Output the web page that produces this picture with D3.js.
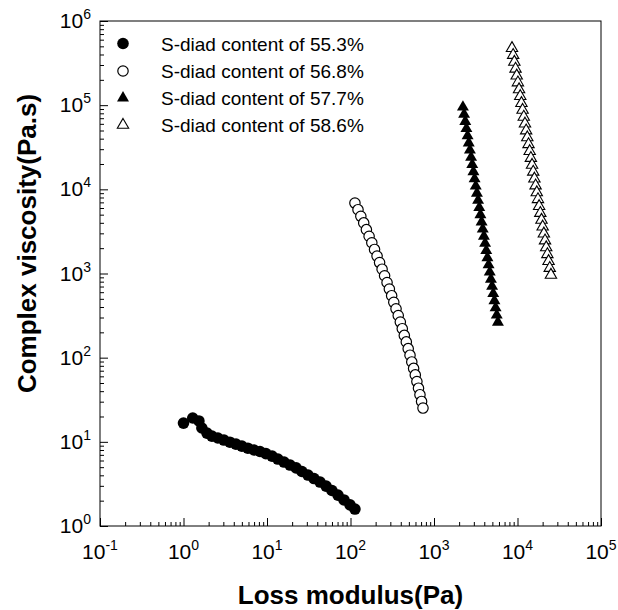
<!DOCTYPE html>
<html>
<head>
<meta charset="utf-8">
<script src="https://cdn.jsdelivr.net/npm/d3@7"></script>
<style>
  body { margin: 0; background: #fff; }
  svg { display: block; }
</style>
</head>
<body>
<script>
// complex viscosity vs loss modulus, four S-diad contents

var seriesNames = ["S-diad content of 55.3%", "S-diad content of 56.8%",
                   "S-diad content of 57.7%", "S-diad content of 58.6%"];

// [loss modulus (Pa), complex viscosity (Pa.s)]
var s553 = [[1.0,16.7],[1.29,19.2],[1.53,17.7],[1.66,14.6],[1.91,12.7],[2.19,11.7],
  [2.58,11.1],[3.05,10.5],[3.6,9.9],[4.25,9.4],[5.0,8.9],[5.9,8.4],[6.98,8.0],
  [8.24,7.68],[9.7,7.25],[11.5,6.77],[13.5,6.24],[16.0,5.75],[18.9,5.3],[22.3,4.9],
  [26.2,4.44],[31,4.03],[36.6,3.66],[43.2,3.33],[51,2.98],[60,2.64],[70.8,2.33],
  [83.6,2.04],[98.7,1.78],[113,1.59]];

var s568 = [[113,6860],[123,5730],[133,4780],[144,3990],[155,3320],[167,2770],
  [180,2320],[194,1930],[208,1610],[223,1350],[239,1125],[256,940],[274,782],
  [292,653],[311,545],[330,455],[351,380],[373,317],[395,265],[417,221],[441,184],
  [466,154],[491,128],[516,107],[542,89],[570,74.6],[597,62.4],[624,52.0],
  [652,43.4],[679,36.3],[710,30.2],[738,25.2]];

var s577 = [[2220,94700],[2293,77800],[2368,64000],[2445,52600],[2525,43200],
  [2608,35500],[2693,29200],[2781,24000],[2872,19700],[2966,16200],[3063,13300],
  [3163,10940],[3266,8990],[3373,7390],[3483,6070],[3597,4990],[3715,4100],
  [3836,3370],[3962,2770],[4091,2280],[4225,1873],[4363,1540],[4506,1266],
  [4653,1040],[4805,855],[4962,703],[5124,578],[5292,475],[5465,390],[5643,321],
  [5828,264]];

var s586 = [[8590,475000],[8874,393600],[9168,326200],[9472,270300],[9785,224000],
  [10110,185600],[10440,153800],[10790,127500],[11150,105600],[11510,87540],
  [11890,72540],[12290,60110],[12690,49820],[13110,41280],[13550,34210],
  [14000,28350],[14460,23490],[14940,19470],[15430,16130],[15940,13370],
  [16470,11080],[17010,9180],[17580,7610],[18160,6300],[18760,5220],[19380,4330],
  [20020,3590],[20680,2970],[21360,2460],[22070,2040],[22800,1690],[23550,1400],
  [24330,1160],[25140,962]];

var xTicks = [0.1, 1, 10, 100, 1000, 10000, 100000];
var xTickExp = ["-1", "0", "1", "2", "3", "4", "5"];
var yTicks = [1, 10, 100, 1000, 10000, 100000, 1000000];
var yTickExp = ["0", "1", "2", "3", "4", "5", "6"];

var W = 618, H = 610;
var pLeft = 100, pRight = 601, pTop = 21, pBottom = 526;
var font = "Arial, 'Liberation Sans', Helvetica, sans-serif";

var svg = d3.select("body").append("svg")
  .attr("width", W).attr("height", H);

var x = d3.scaleLog().domain([0.1, 100000]).range([pLeft, pRight]);
var y = d3.scaleLog().domain([1, 1000000]).range([pBottom, pTop]);

// minor + major ticks pointing inward
var xMinor = x.ticks().filter(function(d){ return xTicks.indexOf(d) < 0; });
var yMinor = y.ticks().filter(function(d){ return yTicks.indexOf(d) < 0; });

function tickAxis(g, axis) {
  g.call(axis);
  g.select(".domain").remove();
  g.selectAll("line").attr("stroke", "#000").attr("stroke-width", 1);
}

svg.append("g").attr("transform", "translate(0," + pBottom + ")")
  .call(tickAxis, d3.axisBottom(x).tickValues(xMinor).tickSize(-4).tickFormat(""));
svg.append("g").attr("transform", "translate(0," + pBottom + ")")
  .call(tickAxis, d3.axisBottom(x).tickValues(xTicks).tickSize(-8).tickFormat(""));
svg.append("g").attr("transform", "translate(" + pLeft + ",0)")
  .call(tickAxis, d3.axisLeft(y).tickValues(yMinor).tickSize(-4).tickFormat(""));
svg.append("g").attr("transform", "translate(" + pLeft + ",0)")
  .call(tickAxis, d3.axisLeft(y).tickValues(yTicks).tickSize(-8).tickFormat(""));

// frame
svg.append("rect")
  .attr("x", pLeft).attr("y", pTop)
  .attr("width", pRight - pLeft).attr("height", pBottom - pTop)
  .attr("fill", "none").attr("stroke", "#000").attr("stroke-width", 1);

// tick labels with superscripts
xTicks.forEach(function(v, i) {
  var t = svg.append("text")
    .attr("x", x(v)).attr("y", 559)
    .attr("text-anchor", "middle")
    .attr("font-family", font).attr("font-size", 21).attr("fill", "#000");
  t.append("tspan").text("10");
  t.append("tspan").attr("dy", -9).attr("font-size", 14).text(xTickExp[i]);
});
yTicks.forEach(function(v, i) {
  var t = svg.append("text")
    .attr("x", 91).attr("y", y(v) + 7)
    .attr("text-anchor", "end")
    .attr("font-family", font).attr("font-size", 21).attr("fill", "#000");
  t.append("tspan").text("10");
  t.append("tspan").attr("dy", -9).attr("font-size", 14).text(yTickExp[i]);
});

// axis titles
svg.append("text")
  .attr("x", (pLeft + pRight) / 2).attr("y", 604)
  .attr("text-anchor", "middle")
  .attr("font-family", font).attr("font-weight", "bold").attr("font-size", 26)
  .text("Loss modulus(Pa)");
svg.append("text")
  .attr("transform", "translate(36," + ((pTop + pBottom) / 2 - 30) + ") rotate(-90)")
  .attr("text-anchor", "middle")
  .attr("font-family", font).attr("font-weight", "bold").attr("font-size", 26)
  .text("Complex viscosity(Pa.s)");

// markers
var triFilled = d3.symbol().type(d3.symbolTriangle).size(62);
var triOpen = d3.symbol().type(d3.symbolTriangle).size(56);

function drawMarker(g, kind, cx, cy) {
  if (kind == 0) {
    g.append("circle").attr("cx", cx).attr("cy", cy).attr("r", 5.8).attr("fill", "#000");
  } else if (kind == 1) {
    g.append("circle").attr("cx", cx).attr("cy", cy).attr("r", 5.2)
      .attr("fill", "#fff").attr("stroke", "#000").attr("stroke-width", 1.2);
  } else if (kind == 2) {
    g.append("path").attr("d", triFilled())
      .attr("transform", "translate(" + cx + "," + cy + ")").attr("fill", "#000");
  } else {
    g.append("path").attr("d", triOpen())
      .attr("transform", "translate(" + cx + "," + cy + ")")
      .attr("fill", "#fff").attr("stroke", "#000").attr("stroke-width", 1.1);
  }
}

var allSeries = [s553, s568, s577, s586];
var plot = svg.append("g");
allSeries.forEach(function(s, k) {
  var g = plot.append("g");
  s.forEach(function(d) { drawMarker(g, k, x(d[0]), y(d[1])); });
});

// legend
var legendRows = [43.5, 71, 98, 125];
var lg = svg.append("g");
seriesNames.forEach(function(name, k) {
  drawMarker(lg, k, 123, legendRows[k]);
  lg.append("text")
    .attr("x", 161).attr("y", legendRows[k] + 7)
    .attr("font-family", font).attr("font-size", 19).attr("fill", "#000")
    .text(name);
});
</script>
</body>
</html>
